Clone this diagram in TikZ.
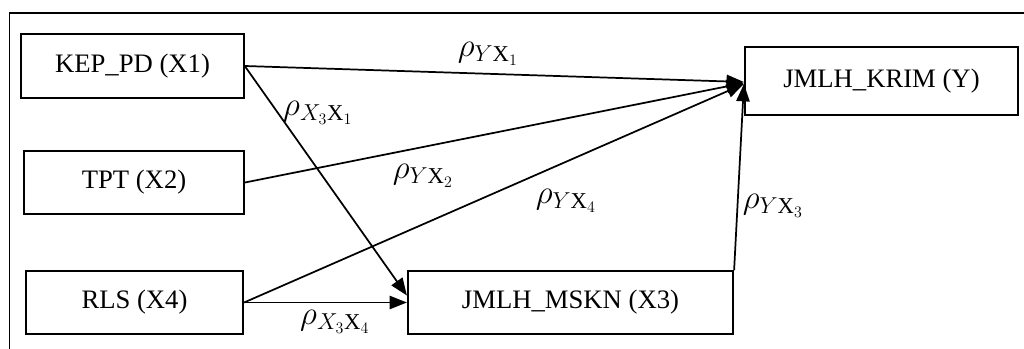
\documentclass[tikz,border=0pt]{standalone}
\usepackage{amsmath}
\usepackage{fontspec}
\setmainfont{Liberation Serif}
\usepackage{tikz}
\usetikzlibrary{arrows.meta,calc}
\DeclareMathSizes{23}{23}{17}{12}

\begin{document}
\begin{tikzpicture}[x=0.75pt,y=0.75pt,yscale=-1,xscale=1,
  varbox/.style={draw,line width=1.4pt,inner sep=0pt,font=\fontsize{20}{24}\selectfont},
  link/.style={line width=1.3pt,-{Triangle[length=13pt,width=10pt]}},
  coef/.style={inner sep=0.75pt,font=\fontsize{23}{27}\selectfont}]
\useasboundingbox (0,0) rectangle (1024,349);

%Straight Lines [frame]
\draw [line width=1.4pt]  (1024,13) -- (9.5,13) -- (9.5,349) ;

%Shape: Rectangle [id:x1]
\node [varbox, minimum width=167pt, minimum height=48pt] (x1) at (132.5,66) {KEP\_PD (X1)};
%Shape: Rectangle [id:x2]
\node [varbox, minimum width=165pt, minimum height=47pt] (x2) at (134,182.5) {TPT (X2)};
%Shape: Rectangle [id:x4]
\node [varbox, minimum width=163pt, minimum height=47pt] (x4) at (134.5,302.5) {RLS (X4)};
%Shape: Rectangle [id:x3]
\node [varbox, minimum width=244pt, minimum height=47pt] (x3) at (570.5,302.5) {JMLH\_MSKN (X3)};
%Shape: Rectangle [id:y]
\node [varbox, minimum width=205pt, minimum height=51pt] (y) at (881.5,81) {JMLH\_KRIM (Y)};

%Straight Lines [id:x1-y]
\draw [link]  (x1.east) -- ($(y.west)+(0,1)$) ;
%Straight Lines [id:x2-y]
\draw [link]  (x2.east) -- ($(y.west)+(0,2)$) ;
%Straight Lines [id:x4-y]
\draw [link]  (x4.east) -- ($(y.west)+(0,3)$) ;
%Straight Lines [id:x3-y]
\draw [link]  (x3.north east) -- ($(y.west)+(0,3)$) ;
%Straight Lines [id:x1-x3]
\draw [link]  (x1.east) -- ($(x3.west)+(0,-7)$) ;
%Straight Lines [id:x4-x3]
\draw [link]  (x4.east) -- (x3.west) ;

% Text Node
\node [coef] (pyx1) at (488,54) {$\rho_{Y\mathrm{X}_1}$};
% Text Node
\node [coef] (px3x1) at (318,113) {$\rho_{X_3\mathrm{X}_1}$};
% Text Node
\node [coef] (pyx2) at (423,176) {$\rho_{Y\mathrm{X}_2}$};
% Text Node
\node [coef] (pyx4) at (566,201) {$\rho_{Y\mathrm{X}_4}$};
% Text Node
\node [coef] (pyx3) at (773,206) {$\rho_{Y\mathrm{X}_3}$};
% Text Node
\node [coef] (px3x4) at (335,322) {$\rho_{X_3\mathrm{X}_4}$};
\end{tikzpicture}
\end{document}
